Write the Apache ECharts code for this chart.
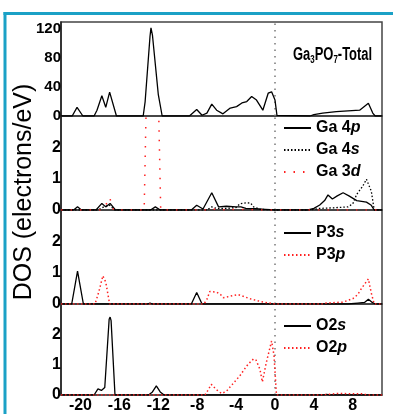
<!DOCTYPE html>
<html>
<head>
<meta charset="utf-8">
<script src="https://cdn.jsdelivr.net/npm/echarts@6/dist/echarts.min.js"></script>
<style>
html,body{margin:0;padding:0;background:#fff;}
#chart{width:393px;height:414px;}
</style>
</head>
<body>
<div id="chart"></div>
<script>
// ---------- data (energy in eV, DOS in electrons/eV) ----------
const xTickLabels = [-20, -16, -12, -8, -4, 0, 4, 8];
const totalTicks = [0, 40, 80, 120];
const fermiLevel = 0;

const totalE = [-22, -20.85, -20.35, -19.75, -18.6, -18.3, -17.8, -17.4, -17.0, -16.3, -13.55, -13.35, -12.85, -12.75, -12.6, -12.0, -11.6, -8.8, -8.6, -8.05, -7.5, -7.0, -6.5, -6.0, -5.35, -4.6, -3.95, -3.4, -2.9, -2.4, -1.9, -1.25, -0.7, -0.35, 0.0, 0.2, 3.6, 4.0, 4.9, 6.3, 7.5, 8.7, 9.6, 10.05, 10.3, 11];
const totalV = [0, 0, 12, 0, 0, 8, 28, 12, 33, 0, 0, 20, 110, 122, 112, 30, 0, 0, 2, 9, 1, 4, 16.5, 8, 3, 11, 13, 18, 20, 27, 22, 8, 31.5, 33.5, 22, 1, 0, 2, 4, 6, 7, 8, 17.5, 4, 0, 0];

const ga4pE = [-22, -20.7, -20.3, -19.9, -18.4, -17.8, -17.4, -16.95, -16.4, -12.8, -12.3, -11.8, -8.6, -8.05, -7.4, -7.2, -6.5, -5.8, -5.6, -5.0, -4.0, -3.5, -3.0, -2.0, -1.0, 0, 3.4, 4.0, 4.6, 5.1, 5.45, 5.9, 6.4, 7.0, 7.6, 8.4, 9.4, 9.9, 10.2, 11];
const ga4pV = [0, 0, 0.1, 0, 0, 0.21, 0.1, 0.21, 0, 0, 0.1, 0, 0, 0.15, 0.03, 0.05, 0.55, 0.1, 0.08, 0.12, 0.1, 0.1, 0.05, 0.04, 0.02, 0, 0, 0.05, 0.16, 0.3, 0.48, 0.35, 0.45, 0.55, 0.45, 0.3, 0.25, 0.15, 0, 0];

const ga4sE = [-22, -18.2, -17.6, -17.0, -16.5, -7.0, -6.5, -6.0, -5.0, -4.0, -3.6, -3.0, -2.5, -2.2, -1.5, 0, 3.6, 4.5, 6.0, 7.5, 8.0, 8.4, 9.0, 9.4, 9.9, 10.2, 11];
const ga4sV = [0, 0, 0.1, 0.15, 0, 0, 0.1, 0.05, 0.05, 0.08, 0.2, 0.23, 0.22, 0.1, 0.02, 0, 0, 0.05, 0.07, 0.1, 0.2, 0.5, 0.75, 0.98, 0.6, 0, 0];

const ga3dE = [-22, -18.0, -17.5, -17.0, -16.6, -13.45, -13.25, -12.9, -12.6, -12.3, -11.95, -11.75, -7.0, -6.5, -6.0, -4.0, -1.0, 0, 11];
const ga3dV = [0, 0, 0.1, 0.4, 0, 0, 3.2, 12, 15, 12, 3, 0, 0, 0.05, 0, 0.02, 0, 0, 0];

const p3sE = [-22, -20.9, -20.5, -20.3, -20.1, -19.7, -13.1, -12.85, -12.6, -8.6, -8.05, -7.5, 7.5, 8.5, 9.2, 9.6, 10.0, 10.3, 11];
const p3sV = [0, 0, 0.7, 1.05, 0.7, 0, 0, 0.03, 0, 0, 0.37, 0, 0, 0.03, 0.05, 0.15, 0.05, 0, 0];

const p3pE = [-22, -18.5, -18.1, -17.7, -17.4, -17.0, -13.0, -12.8, -12.5, -7.3, -7.0, -6.7, -6.0, -5.6, -5.3, -4.3, -3.8, -3.3, -2.6, -1.5, -0.6, 0, 4.8, 5.3, 7.0, 8.0, 8.5, 8.9, 9.6, 9.9, 10.2, 11];
const p3pV = [0, 0, 0.4, 0.9, 0.7, 0, 0, 0.03, 0, 0, 0.15, 0.4, 0.38, 0.3, 0.2, 0.27, 0.3, 0.25, 0.17, 0.08, 0.03, 0, 0, 0.03, 0.06, 0.17, 0.3, 0.5, 0.8, 0.35, 0, 0];

const o2sE = [-22, -18.6, -18.2, -17.85, -17.5, -17.05, -16.95, -16.85, -16.45, -13.0, -12.6, -12.2, -11.8, -11.4, 5.0, 5.3, 5.6, 11];
const o2sV = [0, 0, 0.2, 0.15, 0.25, 2.5, 2.57, 2.45, 0, 0, 0.1, 0.3, 0.1, 0, 0, 0.02, 0, 0];

const o2pE = [-22, -13.1, -12.9, -12.6, -7.2, -6.9, -6.55, -6.0, -5.5, -5.0, -4.6, -3.6, -2.9, -2.5, -2.2, -1.95, -1.55, -1.3, -0.9, -0.35, -0.1, 0.15, 4.5, 5.5, 6.5, 8.0, 9.0, 9.5, 11];
const o2pV = [0, 0, 0.05, 0, 0, 0.15, 0.35, 0.17, 0.05, 0.12, 0.27, 0.64, 0.96, 1.1, 1.19, 1.15, 0.85, 0.43, 1.06, 1.78, 1.3, 0, 0, 0.02, 0.05, 0.04, 0.04, 0, 0];

// ---------- helpers ----------
const zip = (e, v) => e.map((x, i) => [x, v[i]]);
const FONT = "'Liberation Sans Narrow', 'Arial Narrow', 'Liberation Sans', Arial, sans-serif";
const gridTops = [22, 116, 210, 304];
const gridH = 94;
const yMax = [130, 3, 3, 3];

const grids = gridTops.map(t => ({
  left: 61, right: 11, top: t, height: gridH, show: true,
  borderColor: '#444', borderWidth: 1.5, backgroundColor: 'transparent'
}));

const xAxes = gridTops.map((t, i) => ({
  type: 'value', gridIndex: i, min: -22, max: 11,
  axisLine: { show: true, onZero: false, lineStyle: { color: '#444', width: 1.5 } },
  axisTick: { show: false },
  splitLine: { show: false },
  axisLabel: i === 3 ? {
    show: true, customValues: xTickLabels, margin: 3,
    color: '#000', fontFamily: FONT, fontWeight: 'bold', fontSize: 16
  } : { show: false }
}));

const yAxes = gridTops.map((t, i) => ({
  type: 'value', gridIndex: i, min: 0, max: yMax[i], interval: i === 0 ? 40 : 1,
  axisLine: { show: true, onZero: false, lineStyle: { color: '#222', width: 1.5 } },
  axisTick: { show: false },
  splitLine: { show: false },
  axisLabel: {
    show: true, margin: 0, showMaxLabel: i === 0 ? null : false,
    customValues: i === 0 ? totalTicks : undefined,
    color: '#000', fontFamily: FONT, fontWeight: 'bold', fontSize: i === 0 ? 15 : 16
  }
}));

function line(name, e, v, gi, color, type, width) {
  return {
    name, type: 'line', xAxisIndex: gi, yAxisIndex: gi, data: zip(e, v),
    symbol: 'none', showSymbol: false, smooth: false, animation: false,
    lineStyle: { color, type, width }, itemStyle: { color },
    clip: true, z: 3
  };
}

// Fermi level reference (vertical dotted line at E = 0 in every panel)
const fermiSeries = gridTops.map((t, i) => ({
  name: 'Fermi level', type: 'line', xAxisIndex: i, yAxisIndex: i,
  data: [[fermiLevel, 0], [fermiLevel, yMax[i]]],
  symbol: 'none', silent: true, animation: false, z: 1,
  lineStyle: { color: '#777', type: [1.5, 5], width: 1.5 }
}));

const series = [
  line('Ga3PO7-Total', totalE, totalV, 0, '#000', 'solid', 1.3),
  line('Ga 4p', ga4pE, ga4pV, 1, '#000', 'solid', 1.3),
  line('Ga 4s', ga4sE, ga4sV, 1, '#000', [1.5, 2], 1.3),
  line('Ga 3d', ga3dE, ga3dV, 1, '#ff2020', [1.5, 8], 1.5),
  line('P3s', p3sE, p3sV, 2, '#000', 'solid', 1.3),
  line('P3p', p3pE, p3pV, 2, '#ff2020', [1.5, 2.5], 1.5),
  line('O2s', o2sE, o2sV, 3, '#000', 'solid', 1.3),
  line('O2p', o2pE, o2pV, 3, '#ff2020', [1.5, 2.5], 1.5)
].concat(fermiSeries);

const legendText = {
  color: '#000', fontFamily: FONT, fontWeight: 'bold', fontSize: 16, lineHeight: 16,
  rich: {
    n: { fontFamily: FONT, fontWeight: 'bold', fontSize: 16, color: '#000' },
    i: { fontFamily: FONT, fontWeight: 'bold', fontStyle: 'italic', fontSize: 16, color: '#000' }
  }
};
const legendFmt = name => '{n|' + name.slice(0, -1) + '}{i|' + name.slice(-1) + '}';
function legend(names, top) {
  return {
    data: names, left: 283, top, orient: 'vertical', itemWidth: 27, itemHeight: 14,
    itemGap: 6, padding: 0, textStyle: legendText, formatter: legendFmt,
    selectedMode: false, itemStyle: { opacity: 0 }
  };
}

const option = {
  backgroundColor: '#fff',
  animation: false,
  grid: grids, xAxis: xAxes, yAxis: yAxes, series,
  legend: [
    legend(['Ga 4p', 'Ga 4s', 'Ga 3d'], 120),
    legend(['P3s', 'P3p'], 225),
    legend(['O2s', 'O2p'], 318)
  ],
  graphic: [
    { type: 'rect', shape: { x: 3.5, y: 12, width: 3, height: 402 }, style: { fill: '#1ba1c6' }, silent: true },
    { type: 'rect', shape: { x: 3.5, y: 12, width: 390, height: 3 }, style: { fill: '#1ba1c6' }, silent: true },
    { type: 'text', x: 24, y: 192, rotation: Math.PI / 2, silent: true,
      style: { text: 'DOS (electrons/eV)', fill: '#000', font: "25px 'Liberation Sans', Arial, sans-serif",
               align: 'center', verticalAlign: 'middle' } },
    { type: 'text', x: 293, y: 55, scaleX: 0.72, silent: true,
      style: {
        text: '{a|Ga}{s|3}{a|PO}{s|7}{a|-Total}', verticalAlign: 'middle', align: 'left',
        rich: {
          a: { fontFamily: FONT, fontWeight: 'bold', fontSize: 18, fill: '#000' },
          s: { fontFamily: FONT, fontWeight: 'bold', fontSize: 11, fill: '#000', padding: [10, 0, 0, 0] }
        }
      } }
  ]
};

const chart = echarts.init(document.getElementById('chart'), null, { renderer: 'canvas' });
chart.setOption(option);
</script>
</body>
</html>
